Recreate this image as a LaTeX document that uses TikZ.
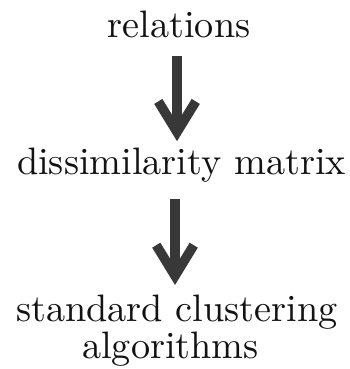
\documentclass[tikz,border=0pt]{standalone}
\usetikzlibrary{arrows.meta}
\begin{document}
\begin{tikzpicture}[x=0.2615pt,y=-0.2615pt,
  stage/.style={font=\fontsize{10}{9.7}\selectfont, text=black!93,
    inner sep=0pt, align=center},
  flow/.style={draw=black!78, line width=2.5pt,
    -{Straight Barb[length=8pt,width=9.8pt]}}]
\useasboundingbox (0,0) rectangle (350,369);
\node[stage, anchor=base] (rel) at (179,38) {relations};
\node[stage, anchor=base] (dis) at (181.5,175) {dissimilarity matrix};
\node[stage, anchor=north] (alg) at (177,294.5)
  {standard clustering\\algorithms\hspace*{3.4pt}};
\draw[flow, shorten <=4.45pt, shorten >=1.7pt]
  ([xshift=-0.52pt]rel.south) -- ([xshift=-0.52pt]rel.south |- dis.north);
\draw[flow, shorten <=4.1pt, shorten >=2.5pt]
  ([xshift=-1.7pt]dis.south) -- ([xshift=-1.7pt]dis.south |- alg.north);
\end{tikzpicture}
\end{document}
